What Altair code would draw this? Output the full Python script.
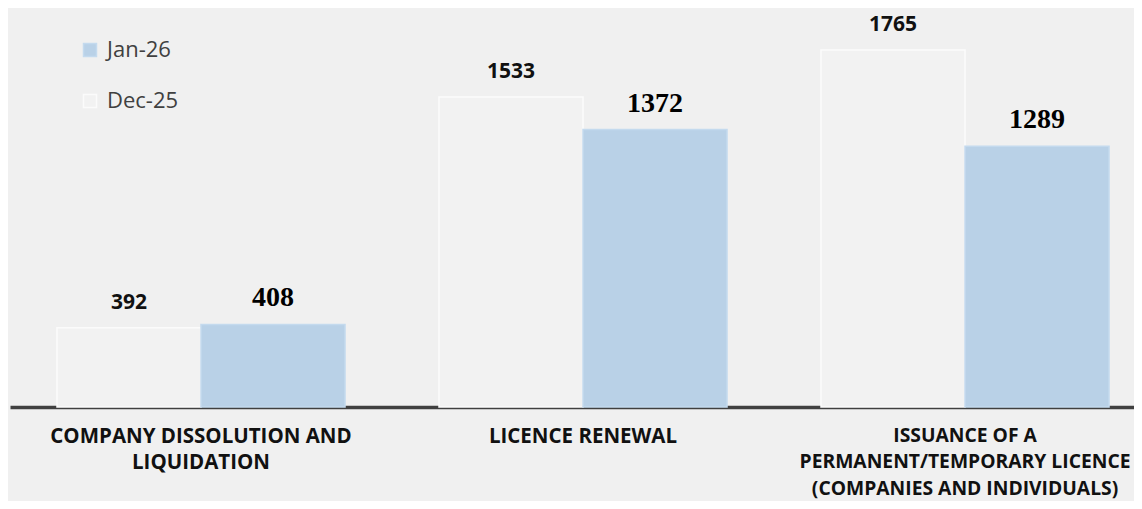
import altair as alt
import pandas as pd

categories = [
    "COMPANY DISSOLUTION AND|LIQUIDATION",
    "LICENCE RENEWAL",
    "ISSUANCE OF A|PERMANENT/TEMPORARY LICENCE|(COMPANIES AND INDIVIDUALS)",
]
series = ["Dec-25", "Jan-26"]
dec_values = [392, 1533, 1765]
jan_values = [408, 1372, 1289]

rows = []
for c, d, j in zip(categories, dec_values, jan_values):
    rows.append({"category": c, "series": "Dec-25", "value": d})
    rows.append({"category": c, "series": "Jan-26", "value": j})
df = pd.DataFrame(rows)

x_enc = alt.X(
    "category:N",
    sort=categories,
    scale=alt.Scale(paddingInner=0.246, paddingOuter=0.0942, align=0.653),
    axis=alt.Axis(
        title=None,
        ticks=False,
        domainColor="#404040",
        domainWidth=3.5,
        labelAngle=0,
        labelExpr="split(datum.label, '|')",
        labelFont="Open Sans",
        labelFontWeight="bold",
        labelFontSize={
            "condition": {"test": "indexof(datum.value, 'ISSUANCE') >= 0", "value": 19.3},
            "value": 20.5,
        },
        labelLineHeight=26.5,
        labelColor="#111111",
        labelPadding=19,
        labelBaseline="top",
        labelLimit=600,
        labelOverlap=False,
        labelBound=False,
        labelFlush=False,
    ),
)
y_enc = alt.Y("value:Q", scale=alt.Scale(domain=[0, 1973], nice=False), axis=None)
xoff = alt.XOffset("series:N", sort=series, scale=alt.Scale(paddingInner=0, paddingOuter=0))

base = alt.Chart(df)

bars = base.mark_bar(strokeWidth=1.5).encode(
    x=x_enc,
    y=y_enc,
    xOffset=xoff,
    color=alt.Color(
        "series:N",
        scale=alt.Scale(domain=["Jan-26", "Dec-25"], range=["#b9d1e7", "#f2f2f2"]),
        legend=alt.Legend(
            title=None,
            orient="none",
            legendX=69,
            legendY=31,
            symbolType="square",
            symbolSize=169,
            symbolStrokeColor="#fafafa",
            symbolStrokeWidth=1.5,
            labelFont="Open Sans",
            labelFontSize=22,
            labelColor="#404040",
            labelOffset=6,
            rowPadding=29,
            padding=0,
        ),
    ),
    stroke=alt.Stroke(
        "series:N",
        scale=alt.Scale(domain=["Jan-26", "Dec-25"], range=["#c4daee", "#fbfbfb"]),
        legend=None,
    ),
)

dec_text = base.transform_filter(alt.datum.series == "Dec-25").mark_text(
    font="Open Sans", fontWeight="bold", fontSize=21, color="#111111",
    baseline="middle", dy=-25,
).encode(x=x_enc, y=y_enc, xOffset=xoff, text="value:Q")

jan_text = base.transform_filter(alt.datum.series == "Jan-26").mark_text(
    font="Liberation Serif", fontWeight="bold", fontSize=28, color="#000000",
    baseline="middle", dy=-26,
).encode(x=x_enc, y=y_enc, xOffset=xoff, text="value:Q")

chart = (
    alt.layer(bars, dec_text, jan_text)
    .properties(
        width=1124,
        height=399,
        padding={"left": 2, "top": 0, "right": 0, "bottom": 94},
        autosize=alt.AutoSizeParams(type="none"),
        background="#f0f0f0",
    )
    .configure_view(stroke=None)
)

chart.save("out.html", embed_options={"renderer": "svg", "actions": False})
